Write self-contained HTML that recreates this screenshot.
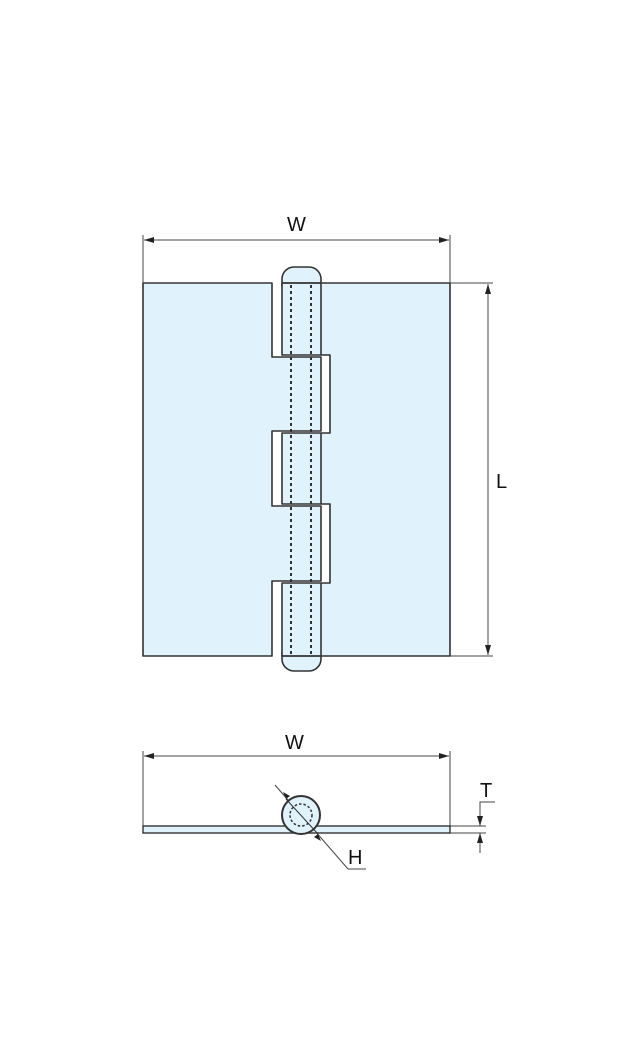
<!DOCTYPE html>
<html><head><style>body{margin:0;background:#fff}svg{display:block}text{font-family:"Liberation Sans",sans-serif;font-size:20px;fill:#111}</style></head><body>
<svg width="626" height="1038" viewBox="0 0 626 1038" xmlns="http://www.w3.org/2000/svg">
<defs><marker id="a" viewBox="0 0 10 6" refX="10" refY="3" markerWidth="10" markerHeight="6" orient="auto-start-reverse" markerUnits="userSpaceOnUse"><path d="M0,0L10,3L0,6z" fill="#222"/></marker></defs>
<g stroke="#333" stroke-width="1.6" fill="#e0f2fc" stroke-linejoin="round">
<rect x="282" y="267" width="39" height="30" rx="12"/>
<rect x="282" y="641" width="39" height="30" rx="12"/>
<polygon points="450,283 282,283 282,355 330,355 330,433 282,433 282,504 330,504 330,583 282,583 282,656 450,656"/>
<polygon points="143,283 272,283 272,357 321,357 321,431 272,431 272,506 321,506 321,581 272,581 272,656 143,656"/>
<line x1="282" y1="283" x2="321" y2="283"/><line x1="282" y1="656" x2="321" y2="656"/>
<line x1="321" y1="283" x2="321" y2="355"/><line x1="321" y1="433" x2="321" y2="504"/><line x1="321" y1="583" x2="321" y2="656"/>
</g>
<g stroke="#333" stroke-width="2" stroke-dasharray="3,3"><line x1="291" y1="285" x2="291" y2="655"/><line x1="311" y1="285" x2="311" y2="655"/></g>
<g stroke="#444" stroke-width="1" fill="none">
<line x1="143" y1="235" x2="143" y2="283"/><line x1="450" y1="235" x2="450" y2="283"/>
<line x1="144" y1="240" x2="449" y2="240" marker-start="url(#a)" marker-end="url(#a)"/>
<line x1="450" y1="283" x2="493" y2="283"/><line x1="450" y1="656" x2="493" y2="656"/>
<line x1="488" y1="284" x2="488" y2="655" marker-start="url(#a)" marker-end="url(#a)"/>
<line x1="143" y1="751" x2="143" y2="826"/><line x1="450" y1="751" x2="450" y2="826"/>
<line x1="144" y1="756" x2="449" y2="756" marker-start="url(#a)" marker-end="url(#a)"/>
<line x1="450" y1="826" x2="486" y2="826"/><line x1="450" y1="833" x2="486" y2="833"/>
<polyline points="495,802 480,802 480,826" marker-end="url(#a)"/>
<line x1="480" y1="853" x2="480" y2="833" marker-end="url(#a)"/>
<polyline points="366,869 348,869 275,785"/>
</g>
<rect x="143" y="826" width="307" height="7" fill="#e0f2fc" stroke="#333" stroke-width="1.4"/>
<circle cx="301" cy="815" r="19" fill="#e0f2fc" stroke="#333" stroke-width="2"/>
<circle cx="301" cy="815" r="11" fill="none" stroke="#333" stroke-width="1.5" stroke-dasharray="2.5,2"/>
<line x1="286" y1="799" x2="318" y2="834" stroke="#333" stroke-width="1"/>
<path d="M286,799 l-3,-7 l7,4z M318,834 l3,7 l-7,-4z" fill="#222"/>
<text x="287" y="231">W</text><text x="496" y="488">L</text><text x="285" y="749">W</text>
<text x="480" y="797">T</text><text x="348" y="864">H</text>
</svg></body></html>
